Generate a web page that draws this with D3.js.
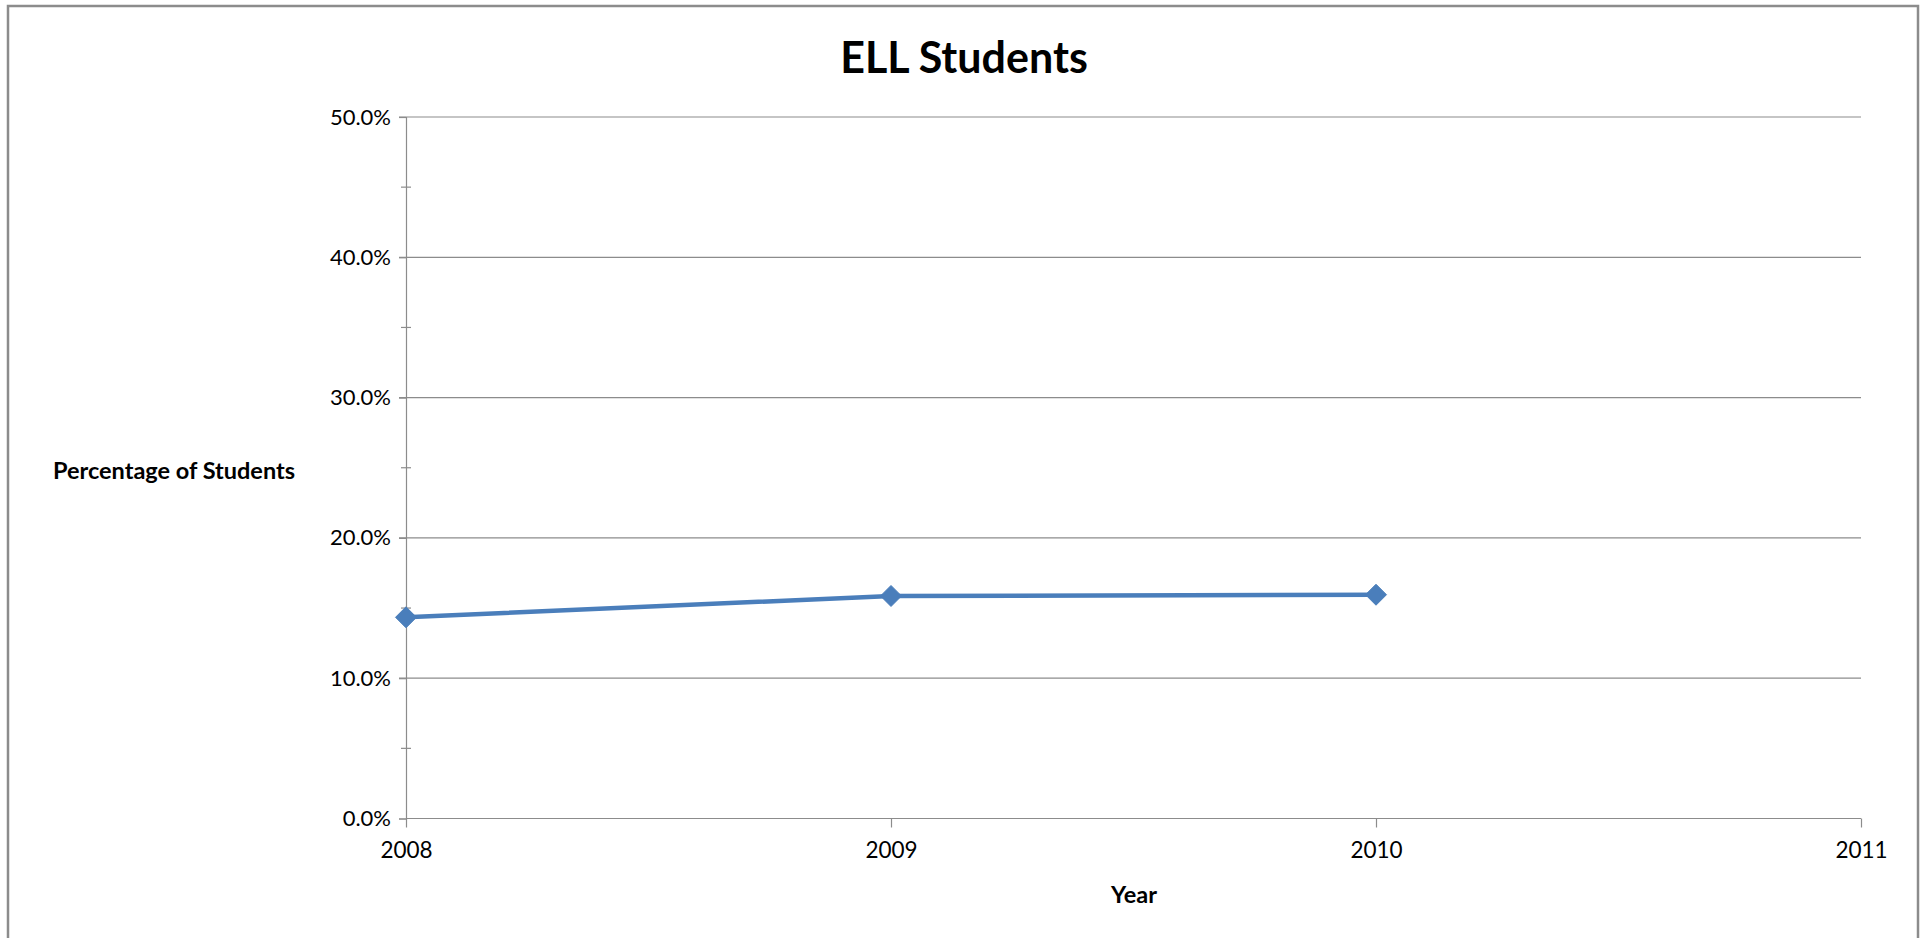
<!DOCTYPE html>
<html>
<head>
<meta charset="utf-8">
<script src="https://cdn.jsdelivr.net/npm/d3@7"></script>
<style>
  html, body { margin: 0; padding: 0; background: #fff; }
  svg { display: block; }
  text { font-family: Lato, "Open Sans", sans-serif; fill: #000; }
</style>
</head>
<body>
<svg id="chart" width="1927" height="938"></svg>
<script>
// ELL students as a share of enrolment, by school year
const years = [2008, 2009, 2010];
const ellPercent = [14.34, 15.86, 15.95];
const xTicks = [2008, 2009, 2010, 2011];
const yMajorTicks = [0, 10, 20, 30, 40, 50];
const yMinorTicks = [5, 15, 25, 35, 45];

const svg = d3.select("#chart");
const margin = { left: 406, right: 1861, top: 117, bottom: 818.5 };

const x = d3.scaleLinear().domain([2008, 2011]).range([margin.left, margin.right]);
const y = d3.scaleLinear().domain([0, 50]).range([margin.bottom, margin.top]);

// chart frame
svg.append("rect")
  .attr("x", 8).attr("y", 6)
  .attr("width", 1910).attr("height", 960)
  .attr("fill", "#fff")
  .attr("stroke", "#8c8c8c").attr("stroke-width", 2.5);

// horizontal gridlines (extend left as tick marks)
svg.append("g")
  .selectAll("line")
  .data(yMajorTicks.filter(d => d > 0))
  .join("line")
  .attr("x1", margin.left - 7).attr("x2", margin.right)
  .attr("y1", d => y(d)).attr("y2", d => y(d))
  .attr("stroke", "#8c8c8c").attr("stroke-width", 1.2);

// y axis
const yAxis = svg.append("g")
  .attr("transform", `translate(${margin.left},0)`)
  .call(d3.axisLeft(y).tickValues(yMajorTicks).tickSize(7).tickPadding(8)
    .tickFormat(d => d3.format(".1f")(d) + "%"));
yAxis.select(".domain").attr("stroke", "#8c8c8c").attr("stroke-width", 1.2);
yAxis.selectAll(".tick line").attr("stroke", "#8c8c8c").attr("stroke-width", 1.2);
yAxis.selectAll("text").attr("font-size", 22).attr("font-family", "Lato, sans-serif").attr("fill", "#111");

// minor ticks crossing the y axis
svg.append("g")
  .selectAll("line")
  .data(yMinorTicks)
  .join("line")
  .attr("x1", margin.left - 5).attr("x2", margin.left + 5)
  .attr("y1", d => y(d)).attr("y2", d => y(d))
  .attr("stroke", "#8c8c8c").attr("stroke-width", 1.2);

// x axis
const xAxis = svg.append("g")
  .attr("transform", `translate(0,${margin.bottom})`)
  .call(d3.axisBottom(x).tickValues(xTicks).tickSize(9).tickPadding(15)
    .tickFormat(d3.format("d")));
xAxis.select(".domain").attr("stroke", "#8c8c8c").attr("stroke-width", 1.2)
  .attr("d", `M${margin.left},0H${margin.right}`);
xAxis.selectAll(".tick line").attr("stroke", "#8c8c8c").attr("stroke-width", 1.2);
xAxis.selectAll("text").attr("font-size", 22.5).attr("font-family", "Lato, sans-serif").attr("fill", "#111");

// data line
const pts = years.map((yr, i) => [yr, ellPercent[i]]);
svg.append("path")
  .datum(pts)
  .attr("fill", "none")
  .attr("stroke", "#4a7ebb")
  .attr("stroke-width", 4.5)
  .attr("stroke-linejoin", "round")
  .attr("d", d3.line().x(d => x(d[0])).y(d => y(d[1])));

// diamond markers
svg.append("g")
  .selectAll("path")
  .data(pts)
  .join("path")
  .attr("transform", d => `translate(${x(d[0])},${y(d[1])})`)
  .attr("d", "M0,-10.5L10.5,0L0,10.5L-10.5,0Z")
  .attr("fill", "#4a7ebb")
  .attr("stroke", "#4a7ebb")
  .attr("stroke-width", 1);

// title and axis titles
svg.append("text")
  .attr("x", 964).attr("y", 73)
  .attr("text-anchor", "middle")
  .attr("font-size", 43).attr("font-weight", 700)
  .text("ELL Students");

svg.append("text")
  .attr("x", 174).attr("y", 479)
  .attr("text-anchor", "middle")
  .attr("font-size", 23.5).attr("font-weight", 700)
  .text("Percentage of Students");

svg.append("text")
  .attr("x", 1134).attr("y", 903)
  .attr("text-anchor", "middle")
  .attr("font-size", 23.5).attr("font-weight", 700)
  .text("Year");
</script>
</body>
</html>
